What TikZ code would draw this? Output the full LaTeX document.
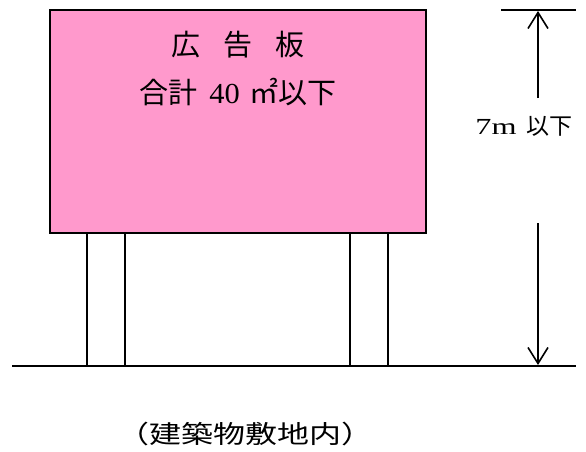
\documentclass[tikz,border=0pt]{standalone}
\usepackage{graphicx}
\usepackage{fontspec}
\setmainfont{Liberation Serif}
\newfontfamily\jp{Noto Sans CJK JP}
\usetikzlibrary{arrows.meta}
\definecolor{boardpink}{RGB}{255,153,204}
\tikzset{
  boardbox/.style={draw=black, line width=2.5pt, fill=boardpink, minimum width=376pt, minimum height=223pt, inner sep=0pt},
  postbox/.style={draw=black, line width=1.6pt, fill=white, minimum width=38pt, minimum height=133pt, inner sep=0pt},
  dimarrow/.style={line width=1.6pt, -{Straight Barb[length=16pt,width=20pt,line width=1.6pt]}},
  lbl/.style={inner sep=0pt, font=\fontsize{30}{34}\selectfont},
  baseline/.style={line width=1.6pt}
}
\begin{document}
\begin{tikzpicture}[x=1pt,y=-1pt]
\useasboundingbox (0,0) rectangle (586,452);
% posts
\node[postbox] (lpost) at (106,299.5) {};
\node[postbox] (rpost) at (369,299.5) {};
% board
\node[boardbox] (board) at (238,121.5) {};
\node[lbl, font=\fontsize{29}{34}\selectfont] (title) at (238,45) {\jp 広\hspace{23pt}告\hspace{23pt}板};
\node[lbl, font=\fontsize{29}{34}\selectfont] (area) at (238,92) {{\jp 合計}\hspace{12pt}\scalebox{1.05}[1]{40}\hspace{10pt}{\jp ㎡以下}};
% ground
\coordinate (gl) at (12,366);
\coordinate (gr) at (576,366);
\draw[baseline] (gl) -- (gr);
% top tick
\coordinate (tl) at (501,10);
\coordinate (tr) at (576,10);
\draw[line width=1.2pt] (tl) -- (tr);
% dimension
\node[lbl, font=\fontsize{23}{26}\selectfont] (dim) at (524,126) {\scalebox{1.4}[1]{7m}\hspace{10pt}{\jp 以下}};
\coordinate (upstart) at (538,98);
\coordinate (uptip) at (538,11);
\coordinate (downstart) at (538,223);
\coordinate (downtip) at (538,365);
\draw[dimarrow] (upstart) -- (uptip);
\draw[dimarrow] (downstart) -- (downtip);
% caption
\node[lbl, font=\fontsize{25}{30}\selectfont] (caption) at (245,434) {\scalebox{1.28}[1]{\jp （建築物敷地内）}};
\end{tikzpicture}
\end{document}
